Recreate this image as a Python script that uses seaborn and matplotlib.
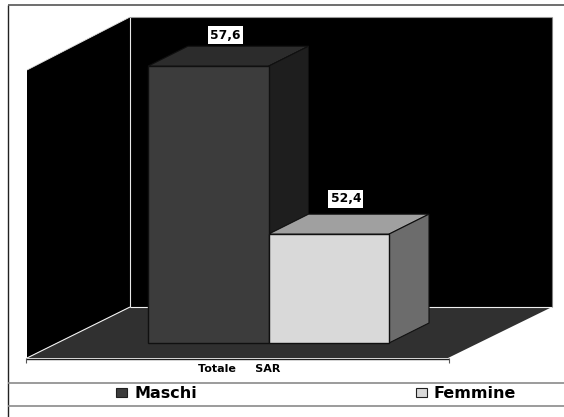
import matplotlib
matplotlib.use("Agg")
import matplotlib.pyplot as plt
from matplotlib.patches import Polygon, Patch
from matplotlib.transforms import Affine2D, IdentityTransform
import pandas as pd
import seaborn as sns

series = ["Maschi", "Femmine"]
values = [57.6, 52.4]
labels = ["57,6", "52,4"]
category = "Totale     SAR"
front_colors = ["#3c3c3c", "#d9d9d9"]
top_colors = ["#2c2c2c", "#a0a0a0"]
side_colors = ["#1e1e1e", "#6c6c6c"]

W, H = 564, 417
BASE = 49.03
sns.set_theme(style="white")
plt.rcParams["font.family"] = ["DejaVu Sans"]
fig = plt.figure(figsize=(W / 100, H / 100), dpi=100, facecolor="white")
ax = fig.add_axes([0, 0, 1, 1])
ax.set_xlim(-0.5 - 148 / 120.5, -0.5 + (W - 148) / 120.5)
ax.set_ylim(BASE - (H - 343) / 32.3, BASE + 343 / 32.3)
ax.axis("off")

px = Affine2D().scale(1, -1).translate(0, H)


def poly(pts, fc, ec="none", lw=0.0, z=1):
    ax.add_patch(Polygon(pts, closed=True, fc=fc, ec=ec, lw=lw, transform=px, zorder=z, clip_on=False))


def line(xs, ys, c="black", lw=1.0, z=2):
    ax.plot(xs, ys, color=c, lw=lw, transform=px, zorder=z, clip_on=False, solid_capstyle="butt")


# 3D box: walls and floor
poly([(130, 17), (552, 17), (552, 307), (130, 307)], "black")
poly([(27, 70), (130, 17), (130, 307), (27, 358)], "black")
poly([(27, 358), (130, 307), (552, 307), (448, 358)], "#303030")
line([130, 552], [17, 17], "#9a9a9a", 0.8)
line([130, 130], [17, 307], "#e8e8e8", 0.8)
line([130, 552], [307, 307], "#f0f0f0", 0.8)
line([27, 130], [358, 307], "#f0f0f0", 0.8)
line([27, 130], [70, 17], "#e0e0e0", 0.6)
line([552, 552], [17, 307], "#808080", 0.8)

# Frame and legend rules
line([8, 8], [5, 417], "#222222", 1.0)
line([8, W], [5, 5], "#555555", 1.2)
line([8, W], [382.5, 382.5], "#8a8a8a", 1.2)
line([8, W], [406, 406], "#8a8a8a", 1.2)

# Axis line under the floor
line([26, 449], [358.5, 358.5], "#202020", 1.0)
line([26, 26], [358, 363], "#555555", 0.8)
line([448.5, 448.5], [358, 363], "#555555", 0.8)

# Front faces
df = pd.DataFrame({"serie": series, "valore": [v - BASE for v in values]})
sns.barplot(
    data=df, x="serie", y="valore", hue="serie", hue_order=series, palette=front_colors,
    order=series, width=1.0, dodge=False, bottom=BASE, legend=False, ax=ax, zorder=4,
    edgecolor="#101010", linewidth=1.0,
)
ax.set_xlim(-0.5 - 148 / 120.5, -0.5 + (W - 148) / 120.5)
ax.set_ylim(BASE - (H - 343) / 32.3, BASE + 343 / 32.3)
ax.axis("off")

# Depth faces and labels derived from the data scale
DX, DY = 40, 20
for i, v in enumerate(values):
    (x0, y0), (x1, y1) = ax.transData.transform([(i - 0.5, BASE), (i + 0.5, v)])
    top = [(x0, y1), (x1, y1), (x1 + DX, y1 + DY), (x0 + DX, y1 + DY)]
    side = [(x1, y0), (x1 + DX, y0 + DY), (x1 + DX, y1 + DY), (x1, y1)]
    for pts, fc in ((top, top_colors[i]), (side, side_colors[i])):
        ax.add_patch(Polygon(pts, closed=True, fc=fc, ec="#101010", lw=0.8,
                             transform=IdentityTransform(), zorder=3, clip_on=False))
    ax.annotate(labels[i], xy=(i, v), xycoords="data", xytext=(17, 31 if i == 0 else 35.5),
                textcoords="offset pixels",
                ha="center", va="center", fontsize=8.8, fontweight="bold", color="black", zorder=6,
                bbox=dict(boxstyle="square,pad=0.2", fc="white", ec="none"))

ax.text(239, 369.5, category, transform=px, ha="center", va="center", fontsize=8, fontweight="bold", color="black")

handles = [Patch(fc=c, ec="#202020", lw=0.8, label=s) for c, s in zip(front_colors, series)]
fig.legend(handles=handles, ncol=2, frameon=False, loc="center left", bbox_to_anchor=(116 / W, 1 - 394 / H),
           prop=dict(weight="bold", size=11.5), labelcolor="black", handlelength=0.69, handleheight=0.5,
           handletextpad=0.44, columnspacing=13.7, borderaxespad=0, borderpad=0)

fig.savefig("out.png", dpi=100)
